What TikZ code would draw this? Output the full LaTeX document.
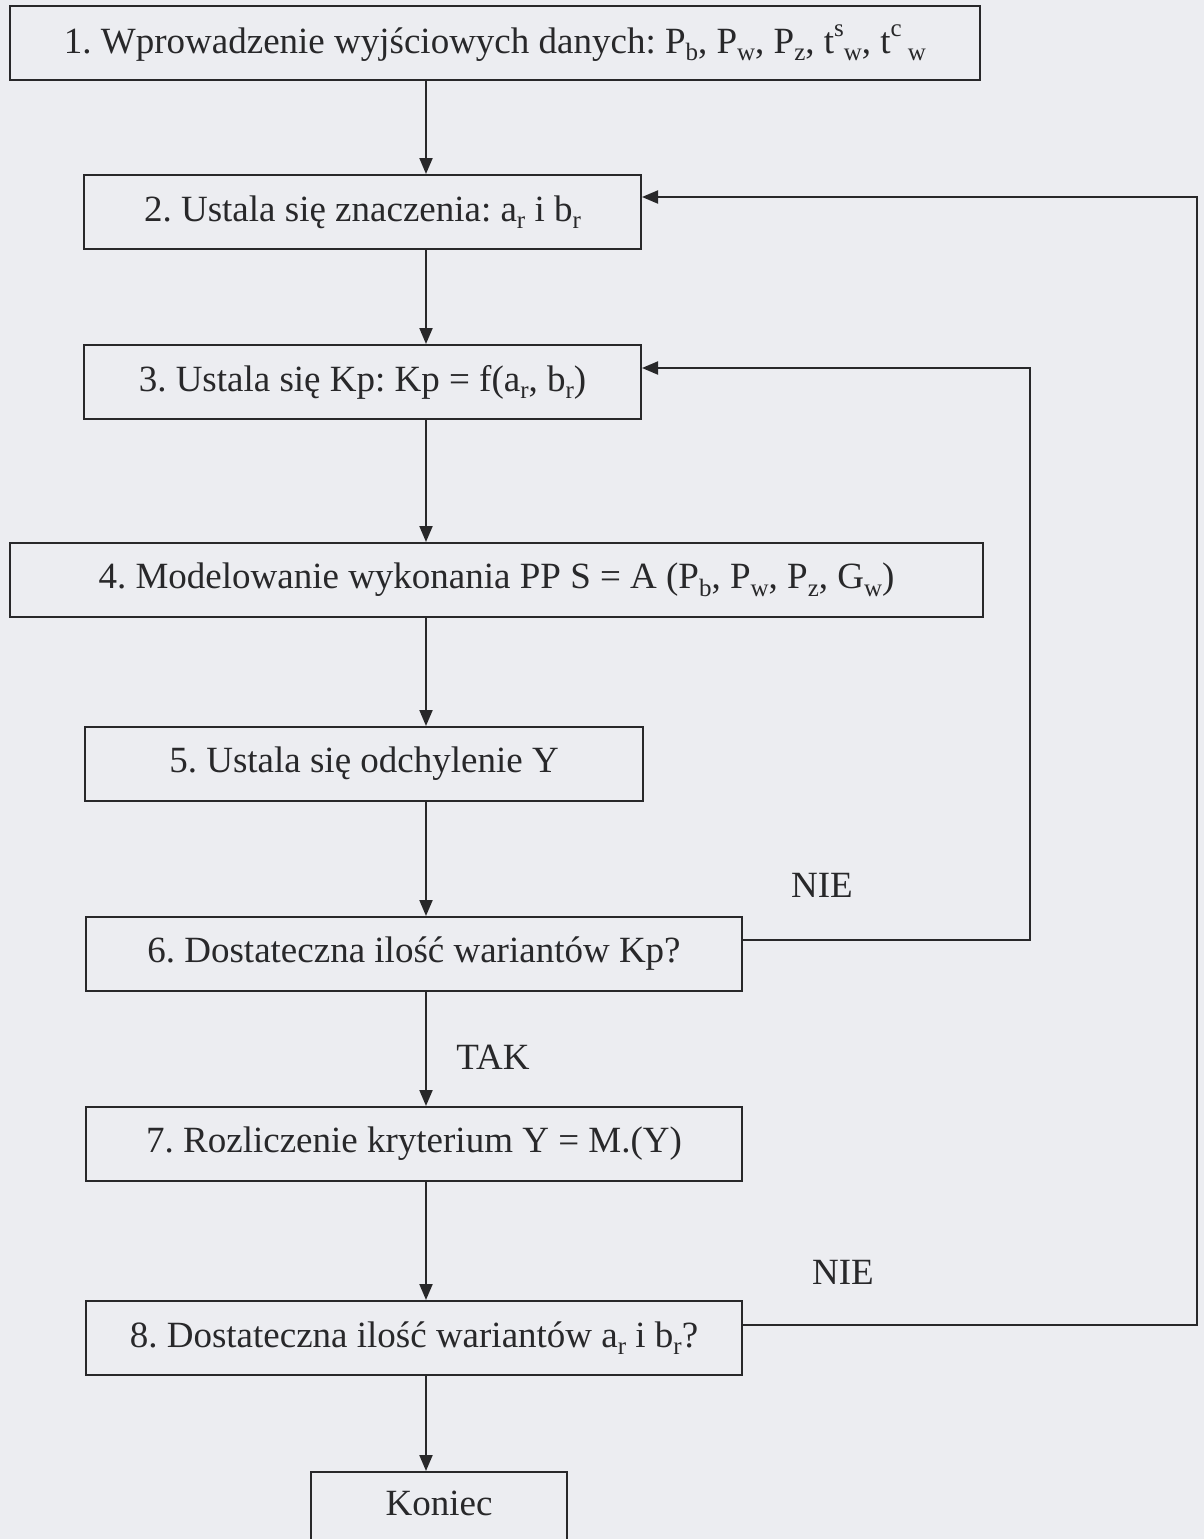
\documentclass[tikz,border=0pt]{standalone}
\usepackage{fontspec}
\setmainfont{Liberation Serif}
\usetikzlibrary{arrows.meta}
\definecolor{paper}{RGB}{236,237,241}
\definecolor{ink}{RGB}{40,40,42}
\newcommand{\sbs}[1]{\raisebox{-0.2em}{\fontsize{25}{25}\selectfont #1}}
\newcommand{\sps}[1]{\raisebox{0.45em}{\fontsize{25}{25}\selectfont #1}}
\frenchspacing
\tikzset{
  box/.style={draw=ink, line width=2pt, rectangle, inner sep=0pt, text=ink,
    font=\fontsize{37}{44}\selectfont, minimum height=74pt},
  arr/.style={draw=ink, line width=2pt, -{Triangle[length=16pt,width=13pt]}},
  lbl/.style={text=ink, font=\fontsize{37}{44}\selectfont, inner sep=0pt}
}
\begin{document}
\begin{tikzpicture}[x=1pt,y=-1pt]
\clip (0,0) rectangle (1204,1539);
\fill[paper] (0,0) rectangle (1204,1539);
\node[box, minimum width=970pt] (b1) at (495,43) {1. Wprowadzenie wyjściowych danych: P\sbs{b}, P\sbs{w}, P\sbs{z}, t\sps{s}\sbs{w}, t\sps{c}\,\sbs{w}};
\node[box, minimum width=557pt] (b2) at (362.5,212) {2. Ustala się znaczenia: a\sbs{r} i b\sbs{r}};
\node[box, minimum width=557pt] (b3) at (362.5,382) {3. Ustala się Kp: Kp = f(a\sbs{r}, b\sbs{r})};
\node[box, minimum width=973pt] (b4) at (496.5,580) {4. Modelowanie wykonania PP S = A (P\sbs{b}, P\sbs{w}, P\sbs{z}, G\sbs{w})};
\node[box, minimum width=558pt] (b5) at (364,764) {5. Ustala się odchylenie Y};
\node[box, minimum width=656pt] (b6) at (414,954) {6. Dostateczna ilość wariantów Kp?};
\node[box, minimum width=656pt] (b7) at (414,1144) {7. Rozliczenie kryterium Y = M.(Y)};
\node[box, minimum width=656pt] (b8) at (414,1338) {8. Dostateczna ilość wariantów a\sbs{r} i b\sbs{r}?};
\node[box, minimum width=256pt, minimum height=140pt, anchor=north] (b9) at (439,1471) {};
\node[lbl] (kon) at (439,1503) {Koniec};
\node[lbl] (nie1) at (822,885) {NIE};
\node[lbl] (nie2) at (843,1272) {NIE};
\node[lbl] (tak) at (493,1057) {TAK};
\coordinate (ax) at (426,0);
\draw[arr] (ax |- b1.south) -- (ax |- b2.north);
\draw[arr] (ax |- b2.south) -- (ax |- b3.north);
\draw[arr] (ax |- b3.south) -- (ax |- b4.north);
\draw[arr] (ax |- b4.south) -- (ax |- b5.north);
\draw[arr] (ax |- b5.south) -- (ax |- b6.north);
\draw[arr] (ax |- b6.south) -- (ax |- b7.north);
\draw[arr] (ax |- b7.south) -- (ax |- b8.north);
\draw[arr] (ax |- b8.south) -- (ax |- b9.north);
\coordinate (y6) at (0,940);
\coordinate (y3) at (0,368);
\coordinate (y8) at (0,1325);
\coordinate (y2) at (0,197);
\coordinate (r1) at (1030,0);
\coordinate (r2) at (1197,0);
\draw[arr] (b6.east |- y6) -- (r1 |- y6) -- (r1 |- y3) -- (b3.east |- y3);
\draw[arr] (b8.east |- y8) -- (r2 |- y8) -- (r2 |- y2) -- (b2.east |- y2);
\end{tikzpicture}
\end{document}
